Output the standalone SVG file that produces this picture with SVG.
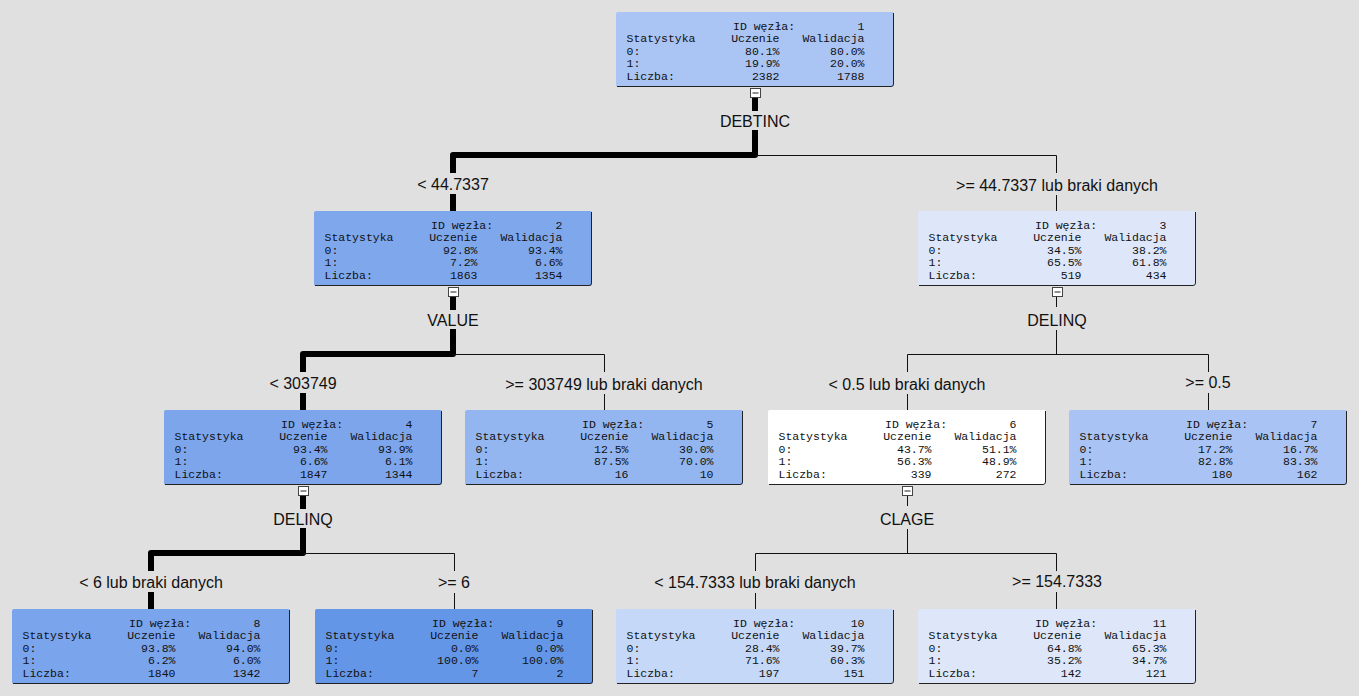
<svg xmlns="http://www.w3.org/2000/svg" width="1359" height="696" viewBox="0 0 1359 696">
<style>
.t{font-family:"Liberation Mono",monospace;font-size:11.5px;fill:#111}
.e{text-anchor:end}
.lbl{font-family:"Liberation Sans",Arial,sans-serif;font-size:16px;text-anchor:middle;fill:#111}
.thick{stroke:#000;stroke-width:6;fill:none;stroke-linejoin:round}
.thin{stroke:#111;stroke-width:1;fill:none}
.sh{stroke:#222;stroke-width:1;fill:none}
.cb{fill:#fff;stroke:#444;stroke-width:1}
.mn{stroke:#222;stroke-width:1}
</style>
<defs>
<g id="frame"><path class="sh" d="M277.5,1 V72 Q277.5,74.5 275,74.5 H1"/></g>
<g id="hdr">
<text class="t" x="117" y="17.5">ID węzła:</text>
<text class="t" x="10.5" y="30.1">Statystyka</text><text class="t e" x="163.5" y="30.1">Uczenie</text><text class="t e" x="248.5" y="30.1">Walidacja</text>
<text class="t" x="10.5" y="42.8">0:</text>
<text class="t" x="10.5" y="55.4">1:</text>
<text class="t" x="10.5" y="68.1">Liczba:</text>
</g>
<g id="col"><rect class="cb" x="134.5" y="76.5" width="10" height="9"/><line class="mn" x1="136.5" y1="81" x2="142.5" y2="81"/></g>
</defs>
<rect width="1359" height="696" fill="#e0e0e0"/>

<g id="connectors">
<path class="thick" d="M755,97 V111 M755,130 V155 H453 V173 M453,194 V211"/>
<path class="thin" d="M755.5,155.5 H1056.5 V173 M1056.5,195 V211"/>
<path class="thick" d="M453,296 V310 M453,329 V354 H303 V372 M303,393 V410"/>
<path class="thin" d="M453.5,354.5 H604.5 V372 M604.5,394 V410"/>
<path class="thin" d="M1056.5,297 V307 M1056.5,330 V354.5 M907.5,354.5 H1208.5 M907.5,354.5 V372 M907.5,394 V410 M1208.5,354.5 V372 M1208.5,393 V410"/>
<path class="thick" d="M303,495 V509 M303,528 V553 H151 V571 M151,592 V609"/>
<path class="thin" d="M303.5,553.5 H454.5 V571 M454.5,593 V609"/>
<path class="thin" d="M907.5,496 V506 M907.5,529 V553.5 M755.5,553.5 H1056.5 M755.5,553.5 V571 M755.5,593 V609 M1056.5,553.5 V571 M1056.5,592 V609"/>
<text class="lbl" x="755" y="127">DEBTINC</text>
<text class="lbl" x="453" y="190">&lt; 44.7337</text>
<text class="lbl" x="1057" y="191">&gt;= 44.7337 lub braki danych</text>
<text class="lbl" x="453" y="326">VALUE</text>
<text class="lbl" x="1057" y="326">DELINQ</text>
<text class="lbl" x="303" y="389">&lt; 303749</text>
<text class="lbl" x="604" y="390">&gt;= 303749 lub braki danych</text>
<text class="lbl" x="907" y="390">&lt; 0.5 lub braki danych</text>
<text class="lbl" x="1208" y="388">&gt;= 0.5</text>
<text class="lbl" x="303" y="525">DELINQ</text>
<text class="lbl" x="907" y="525">CLAGE</text>
<text class="lbl" x="151" y="588">&lt; 6 lub braki danych</text>
<text class="lbl" x="454" y="588">&gt;= 6</text>
<text class="lbl" x="755" y="588">&lt; 154.7333 lub braki danych</text>
<text class="lbl" x="1057" y="587">&gt;= 154.7333</text>
</g>

<g id="node1" transform="translate(616,12)">
<rect width="278" height="75" rx="2" fill="#aac4f4"/><use href="#frame"/><use href="#hdr"/>
<text class="t e" x="248.5" y="17.5">1</text>
<text class="t e" x="163.5" y="42.8">80.1%</text><text class="t e" x="248.5" y="42.8">80.0%</text>
<text class="t e" x="163.5" y="55.4">19.9%</text><text class="t e" x="248.5" y="55.4">20.0%</text>
<text class="t e" x="163.5" y="68.1">2382</text><text class="t e" x="248.5" y="68.1">1788</text>
<use href="#col"/>
</g>
<g id="node2" transform="translate(314,211)">
<rect width="278" height="75" rx="2" fill="#7fa7ec"/><use href="#frame"/><use href="#hdr"/>
<text class="t e" x="248.5" y="17.5">2</text>
<text class="t e" x="163.5" y="42.8">92.8%</text><text class="t e" x="248.5" y="42.8">93.4%</text>
<text class="t e" x="163.5" y="55.4">7.2%</text><text class="t e" x="248.5" y="55.4">6.6%</text>
<text class="t e" x="163.5" y="68.1">1863</text><text class="t e" x="248.5" y="68.1">1354</text>
<use href="#col"/>
</g>
<g id="node3" transform="translate(918,211)">
<rect width="278" height="75" rx="2" fill="#dde7f9"/><use href="#frame"/><use href="#hdr"/>
<text class="t e" x="248.5" y="17.5">3</text>
<text class="t e" x="163.5" y="42.8">34.5%</text><text class="t e" x="248.5" y="42.8">38.2%</text>
<text class="t e" x="163.5" y="55.4">65.5%</text><text class="t e" x="248.5" y="55.4">61.8%</text>
<text class="t e" x="163.5" y="68.1">519</text><text class="t e" x="248.5" y="68.1">434</text>
<use href="#col"/>
</g>
<g id="node4" transform="translate(164,410)">
<rect width="278" height="75" rx="2" fill="#7ca5ec"/><use href="#frame"/><use href="#hdr"/>
<text class="t e" x="248.5" y="17.5">4</text>
<text class="t e" x="163.5" y="42.8">93.4%</text><text class="t e" x="248.5" y="42.8">93.9%</text>
<text class="t e" x="163.5" y="55.4">6.6%</text><text class="t e" x="248.5" y="55.4">6.1%</text>
<text class="t e" x="163.5" y="68.1">1847</text><text class="t e" x="248.5" y="68.1">1344</text>
<use href="#col"/>
</g>
<g id="node5" transform="translate(465,410)">
<rect width="278" height="75" rx="2" fill="#93b6f0"/><use href="#frame"/><use href="#hdr"/>
<text class="t e" x="248.5" y="17.5">5</text>
<text class="t e" x="163.5" y="42.8">12.5%</text><text class="t e" x="248.5" y="42.8">30.0%</text>
<text class="t e" x="163.5" y="55.4">87.5%</text><text class="t e" x="248.5" y="55.4">70.0%</text>
<text class="t e" x="163.5" y="68.1">16</text><text class="t e" x="248.5" y="68.1">10</text>
</g>
<g id="node6" transform="translate(768,410)">
<rect width="278" height="75" rx="2" fill="#ffffff"/><use href="#frame"/><use href="#hdr"/>
<text class="t e" x="248.5" y="17.5">6</text>
<text class="t e" x="163.5" y="42.8">43.7%</text><text class="t e" x="248.5" y="42.8">51.1%</text>
<text class="t e" x="163.5" y="55.4">56.3%</text><text class="t e" x="248.5" y="55.4">48.9%</text>
<text class="t e" x="163.5" y="68.1">339</text><text class="t e" x="248.5" y="68.1">272</text>
<use href="#col"/>
</g>
<g id="node7" transform="translate(1069,410)">
<rect width="278" height="75" rx="2" fill="#a9c4f4"/><use href="#frame"/><use href="#hdr"/>
<text class="t e" x="248.5" y="17.5">7</text>
<text class="t e" x="163.5" y="42.8">17.2%</text><text class="t e" x="248.5" y="42.8">16.7%</text>
<text class="t e" x="163.5" y="55.4">82.8%</text><text class="t e" x="248.5" y="55.4">83.3%</text>
<text class="t e" x="163.5" y="68.1">180</text><text class="t e" x="248.5" y="68.1">162</text>
</g>
<g id="node8" transform="translate(12,609)">
<rect width="278" height="75" rx="2" fill="#7aa4ec"/><use href="#frame"/><use href="#hdr"/>
<text class="t e" x="248.5" y="17.5">8</text>
<text class="t e" x="163.5" y="42.8">93.8%</text><text class="t e" x="248.5" y="42.8">94.0%</text>
<text class="t e" x="163.5" y="55.4">6.2%</text><text class="t e" x="248.5" y="55.4">6.0%</text>
<text class="t e" x="163.5" y="68.1">1840</text><text class="t e" x="248.5" y="68.1">1342</text>
</g>
<g id="node9" transform="translate(315,609)">
<rect width="278" height="75" rx="2" fill="#6496e8"/><use href="#frame"/><use href="#hdr"/>
<text class="t e" x="248.5" y="17.5">9</text>
<text class="t e" x="163.5" y="42.8">0.0%</text><text class="t e" x="248.5" y="42.8">0.0%</text>
<text class="t e" x="163.5" y="55.4">100.0%</text><text class="t e" x="248.5" y="55.4">100.0%</text>
<text class="t e" x="163.5" y="68.1">7</text><text class="t e" x="248.5" y="68.1">2</text>
</g>
<g id="node10" transform="translate(616,609)">
<rect width="278" height="75" rx="2" fill="#c6d8f7"/><use href="#frame"/><use href="#hdr"/>
<text class="t e" x="248.5" y="17.5">10</text>
<text class="t e" x="163.5" y="42.8">28.4%</text><text class="t e" x="248.5" y="42.8">39.7%</text>
<text class="t e" x="163.5" y="55.4">71.6%</text><text class="t e" x="248.5" y="55.4">60.3%</text>
<text class="t e" x="163.5" y="68.1">197</text><text class="t e" x="248.5" y="68.1">151</text>
</g>
<g id="node11" transform="translate(918,609)">
<rect width="278" height="75" rx="2" fill="#dde7f9"/><use href="#frame"/><use href="#hdr"/>
<text class="t e" x="248.5" y="17.5">11</text>
<text class="t e" x="163.5" y="42.8">64.8%</text><text class="t e" x="248.5" y="42.8">65.3%</text>
<text class="t e" x="163.5" y="55.4">35.2%</text><text class="t e" x="248.5" y="55.4">34.7%</text>
<text class="t e" x="163.5" y="68.1">142</text><text class="t e" x="248.5" y="68.1">121</text>
</g>
</svg>
